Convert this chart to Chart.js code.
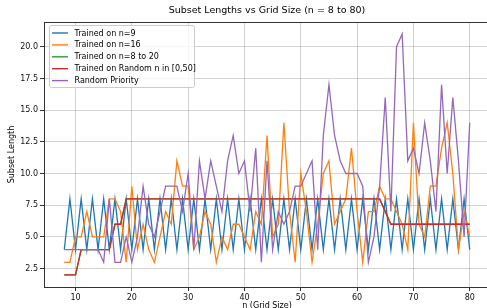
<!DOCTYPE html>
<html>
<head>
<meta charset="utf-8">
<script src="https://cdn.jsdelivr.net/npm/chart.js@4.4.1/dist/chart.umd.min.js"></script>
<style>
html,body{margin:0;padding:0;background:#fff;overflow:hidden;width:487px;height:308px;}
canvas{display:block;}
</style>
</head>
<body>
<canvas id="c" width="500" height="308"></canvas>
<script>
const gridSizes = [8,9,10,11,12,13,14,15,16,17,18,19,20,21,22,23,24,25,26,27,28,29,30,31,32,33,34,35,36,37,38,39,40,41,42,43,44,45,46,47,48,49,50,51,52,53,54,55,56,57,58,59,60,61,62,63,64,65,66,67,68,69,70,71,72,73,74,75,76,77,78,79,80];

const trainedN9 = [4,8,4,8,4,8,4,8,4,8,4,8,4,8,4,8,4,8,4,8,4,8,4,8,4,8,4,8,4,8,4,8,4,8,4,8,4,8,4,8,4,8,4,8,4,8,4,8,4,8,4,8,4,8,4,8,4,8,4,8,4,8,4,8,4,8,4,8,4,8,4,8,4];

const trainedN16 = [3,3,5,5,7,5,5,5,8,8,7,3,9,4,6,4,3,5,7,6,11,9,9,4,5,7,6,3,5,4,6,6,5,4,7,6,13,5,6,14,7,3,10,7,3,6,10,11,6,7,8,12,7,3,7,7,9,8,8,7,6,4,14,6,5,9,9,12,14,10,4,7,5];

const trainedN8to20 = [2,2,2,4,4,4,4,4,4,6,6,8,8,8,8,8,8,8,8,8,8,8,8,8,8,8,8,8,8,8,8,8,8,8,8,8,8,8,8,8,8,8,8,8,8,8,8,8,8,8,8,8,8,8,8,8,8,7,6,6,6,6,6,6,6,6,6,6,6,6,6,6,6];

const trainedRandom = [2,2,2,4,4,4,4,4,4,6,6,8,8,8,8,8,8,8,8,8,8,8,8,8,8,8,8,8,8,8,8,8,8,8,8,8,8,8,8,8,8,8,8,8,8,8,8,8,8,8,8,8,8,8,8,8,8,7,6,6,6,6,6,6,6,6,6,6,6,6,6,6,6];

const randomPriority = [4,4,4,4,4,4,4,3,8,3,3,5,3,5,9,6,5,7,9,9,9,7,10,4,11,8,11,9,7,11,13,10,11,7,12,3,11,4,7,6,7,9,9,10,11,4,13,17,13,11,10,10,10,9,3,5,9,16,7,20,21,11,12,10,14,11,7,17,10,16,11,5,14];

const seriesLabels = ["Trained on n=9","Trained on n=16","Trained on n=8 to 20","Trained on Random n in [0,50]","Random Priority"];
const seriesColors = ["#1f77b4","#ff7f0e","#2ca02c","#d62728","#9467bd"];
const xTicks = [10,20,30,40,50,60,70,80];
const yTicks = [2.5,5.0,7.5,10.0,12.5,15.0,17.5,20.0];

const FONT = "'DejaVu Sans', sans-serif";
const seriesValues = [trainedN9, trainedN16, trainedN8to20, trainedRandom, randomPriority];

const datasets = seriesValues.map((vals, i) => ({
  label: seriesLabels[i],
  data: vals.map((v, k) => ({x: gridSizes[k], y: v})),
  borderColor: seriesColors[i],
  backgroundColor: seriesColors[i],
  borderWidth: 1.3,
  pointRadius: 0,
  tension: 0,
  fill: false,
  order: 5 - i
}));

const decor = {
  id: 'decor',
  beforeDraw(chart) {
    const ctx = chart.ctx;
    ctx.save();
    ctx.fillStyle = '#fff';
    ctx.fillRect(0, 0, chart.width, chart.height);
    ctx.restore();
  },
  afterDraw(chart) {
    const ctx = chart.ctx;
    const a = chart.chartArea;
    ctx.save();
    // frame
    ctx.strokeStyle = '#333';
    ctx.lineWidth = 1;
    ctx.strokeRect(Math.round(a.left) + 0.5, Math.round(a.top) + 0.5, Math.round(a.right - a.left), Math.round(a.bottom - a.top));
    // title
    const cx = (a.left + a.right) / 2;
    ctx.fillStyle = '#000';
    ctx.font = '9.5px ' + FONT;
    ctx.textAlign = 'center';
    ctx.textBaseline = 'middle';
    ctx.fillText('Subset Lengths vs Grid Size (n = 8 to 80)', cx, 11);
    // axis labels
    ctx.font = '8px ' + FONT;
    ctx.fillText('n (Grid Size)', cx, 306);
    ctx.save();
    ctx.translate(12, (a.top + a.bottom) / 2);
    ctx.rotate(-Math.PI / 2);
    ctx.fillText('Subset Length', 0, 0);
    ctx.restore();
    // legend
    const lx = 49.5, ly = 25.5, lw = 145, lh = 62;
    ctx.fillStyle = 'rgba(255,255,255,0.8)';
    ctx.strokeStyle = '#cccccc';
    ctx.lineWidth = 1;
    ctx.beginPath();
    if (ctx.roundRect) ctx.roundRect(lx, ly, lw, lh, 2); else ctx.rect(lx, ly, lw, lh);
    ctx.fill();
    ctx.stroke();
    ctx.font = '8px ' + FONT;
    ctx.textAlign = 'left';
    ctx.textBaseline = 'middle';
    for (let i = 0; i < seriesLabels.length; i++) {
      const y = 33 + i * 11.9;
      ctx.strokeStyle = seriesColors[i];
      ctx.lineWidth = 1.4;
      ctx.beginPath();
      ctx.moveTo(52, y);
      ctx.lineTo(68, y);
      ctx.stroke();
      ctx.fillStyle = '#000';
      ctx.fillText(seriesLabels[i], 74.5, y + 0.5);
    }
    ctx.restore();
  }
};

new Chart(document.getElementById('c'), {
  type: 'line',
  data: {datasets},
  options: {
    responsive: false,
    animation: false,
    devicePixelRatio: 1,
    layout: {padding: {top: 22, right: 10, left: 0, bottom: 0}},
    plugins: {legend: {display: false}, tooltip: {enabled: false}, title: {display: false}},
    scales: {
      x: {
        type: 'linear',
        min: 4.4,
        max: 83.6,
        afterBuildTicks: s => { s.ticks = xTicks.map(v => ({value: v})); },
        afterFit: s => { s.height = 21; },
        ticks: {font: {family: FONT, size: 8}, color: '#111', padding: 2, autoSkip: false, maxRotation: 0, callback: v => String(v)},
        grid: {color: 'rgba(0,0,0,0.17)', lineWidth: 1, tickColor: '#333', tickLength: 4},
        border: {display: false}
      },
      y: {
        type: 'linear',
        min: 1.05,
        max: 21.95,
        afterBuildTicks: s => { s.ticks = yTicks.map(v => ({value: v})); },
        afterFit: s => { s.width = 44; },
        ticks: {font: {family: FONT, size: 8}, color: '#111', padding: 2, autoSkip: false, callback: v => Number(v).toFixed(1)},
        grid: {color: 'rgba(0,0,0,0.17)', lineWidth: 1, tickColor: '#333', tickLength: 4},
        border: {display: false}
      }
    }
  },
  plugins: [decor]
});
</script>
</body>
</html>
